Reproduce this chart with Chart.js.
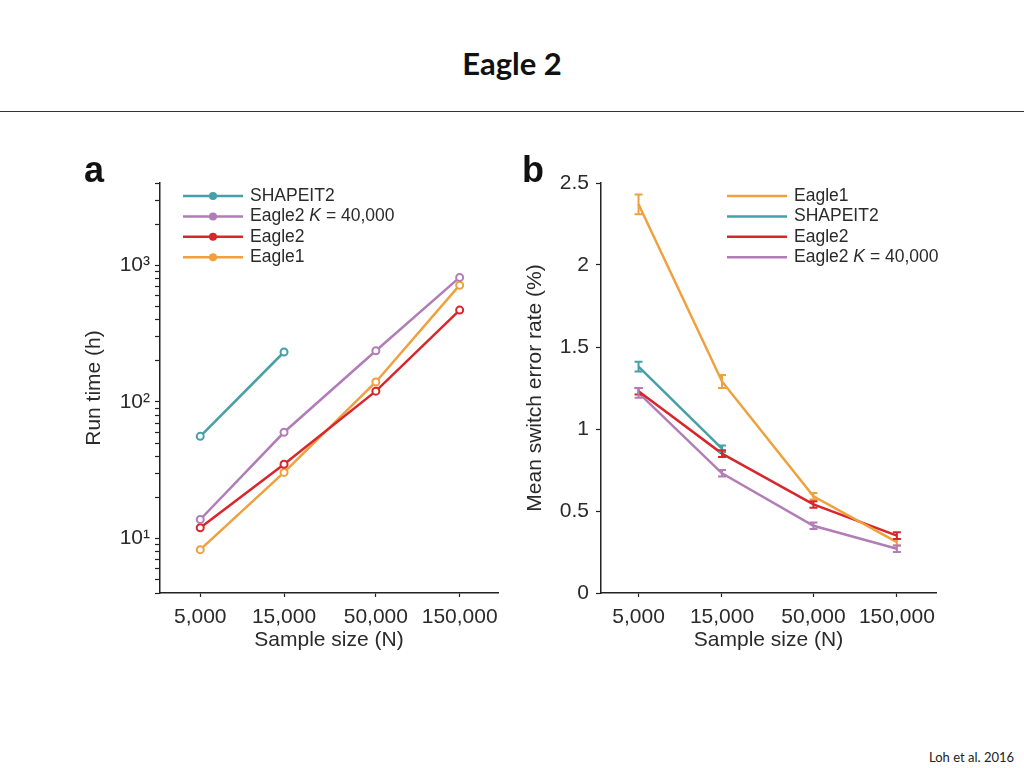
<!DOCTYPE html>
<html>
<head>
<meta charset="utf-8">
<title>Eagle 2</title>
<script src="https://cdn.jsdelivr.net/npm/chart.js"></script>
<style>
  body { margin: 0; width: 1024px; height: 768px; background: #fff; position: relative; overflow: hidden; }
  #title { position: absolute; top: 48px; left: 0; width: 1024px; text-align: center; line-height: 31px;
           font-family: Lato, "Open Sans", sans-serif; font-weight: bold; font-size: 31px; color: #111; }
  #rule { position: absolute; top: 111px; left: 0; width: 1024px; border-top: 1.5px solid #333; }
  .panel { position: absolute; top: 150px; }
  .letter { position: absolute; top: 152px; line-height: 36px; font-family: "Liberation Sans", Arial, sans-serif;
            font-weight: bold; font-size: 36px; color: #111; }
  #foot { position: absolute; left: 929px; top: 749px; font-family: Lato, sans-serif; font-size: 13px; color: #222; }
</style>
</head>
<body>
<div id="title">Eagle 2</div>
<div id="rule"></div>
<canvas id="chartA" class="panel" width="440" height="510" style="left:70px"></canvas>
<canvas id="chartB" class="panel" width="440" height="510" style="left:510px"></canvas>
<div class="letter" style="left:84px">a</div>
<div class="letter" style="left:522px">b</div>
<div id="foot">Loh et al. 2016</div>

<script>
// sample sizes (N)
var sampleSizes = [5000, 15000, 50000, 150000];

// panel a: run time (h)
var runShapeit2 = [56, 232];
var runEagle2K = [13.8, 60, 237, 815];
var runEagle2 = [12, 35, 120, 470];
var runEagle1 = [8.3, 30.5, 140, 715];
var runTickValues = [10, 100, 1000];
var runTickLabels = ['10¹', '10²', '10³'];

// panel b: mean switch error rate (%) and error bar half-widths
var serEagle1 = [2.37, 1.29, 0.59, 0.31];
var serEagle1Err = [0.06, 0.04, 0.02, 0.02];
var serShapeit2 = [1.38, 0.88];
var serShapeit2Err = [0.03, 0.02];
var serEagle2 = [1.23, 0.85, 0.54, 0.35];
var serEagle2Err = [0.02, 0.02, 0.02, 0.02];
var serEagle2K = [1.22, 0.73, 0.41, 0.27];
var serEagle2KErr = [0.03, 0.02, 0.02, 0.02];

var TEAL = '#45a0a8', PURPLE = '#b27db7', RED = '#d8262c', ORANGE = '#f0a03c';
var AXIS = '#222', TEXT = '#2a2a2a', FONT = '"Liberation Sans", Arial, sans-serif';
var FS = 21;

function pts(ys) {
    return ys.map(function (y, i) { return {x: sampleSizes[i], y: y}; });
}

// legend drawn inside the plot, one entry per row
var inlineLegend = {
    id: 'inlineLegend',
    afterDraw: function (chart, args, opts) {
        var ctx = chart.ctx, area = chart.chartArea;
        ctx.save();
        ctx.textBaseline = 'middle';
        chart.data.datasets.forEach(function (ds, i) {
            var y = area.top + opts.top + i * opts.rowGap;
            var x0 = area.left + opts.left;
            ctx.strokeStyle = ds.borderColor;
            ctx.lineWidth = 2.5;
            ctx.beginPath(); ctx.moveTo(x0, y); ctx.lineTo(x0 + opts.lineLen, y); ctx.stroke();
            if (opts.markers) {
                ctx.fillStyle = ds.borderColor;
                ctx.beginPath(); ctx.arc(x0 + opts.lineLen / 2, y, 4, 0, Math.PI * 2); ctx.fill();
            }
            var tx = x0 + opts.lineLen + 7;
            ctx.fillStyle = TEXT;
            ds.label.split(/\b(K)\b/).forEach(function (part, k) {
                ctx.font = (k % 2 ? 'italic ' : '') + '17.5px ' + FONT;
                ctx.fillText(part, tx, y);
                tx += ctx.measureText(part).width;
            });
        });
        ctx.restore();
    }
};

var errorBars = {
    id: 'errorBars',
    afterDatasetsDraw: function (chart) {
        var ctx = chart.ctx, xs = chart.scales.x, ys = chart.scales.y;
        ctx.save();
        chart.data.datasets.forEach(function (ds) {
            if (!ds.errors) return;
            ctx.strokeStyle = ds.borderColor;
            ctx.lineWidth = 2;
            ds.data.forEach(function (p, i) {
                var px = xs.getPixelForValue(p.x);
                var top = ys.getPixelForValue(p.y + ds.errors[i]);
                var bot = ys.getPixelForValue(p.y - ds.errors[i]);
                ctx.beginPath();
                ctx.moveTo(px, top); ctx.lineTo(px, bot);
                ctx.moveTo(px - 4, top); ctx.lineTo(px + 4, top);
                ctx.moveTo(px - 4, bot); ctx.lineTo(px + 4, bot);
                ctx.stroke();
            });
        });
        ctx.restore();
    }
};

function xScale(min, max) {
    return {
        type: 'logarithmic', min: min, max: max,
        afterBuildTicks: function (s) { s.ticks = sampleSizes.map(function (v) { return {value: v}; }); },
        afterFit: function (s) { s.height = 67; },
        border: {color: AXIS, width: 1.5},
        grid: {drawOnChartArea: false, tickLength: 4, color: AXIS, tickWidth: 1.2},
        ticks: {autoSkip: false, maxRotation: 0, padding: 8, color: TEXT, font: {size: FS, family: FONT},
                callback: function (v) { return Number(v).toLocaleString('en-US'); }},
        title: {display: true, text: 'Sample size (N)', color: TEXT, font: {size: FS, family: FONT},
                padding: {top: 0, bottom: 7}}
    };
}

function line(label, data, color, withPoints, errors) {
    return {
        label: label, data: pts(data), errors: errors,
        borderColor: color, backgroundColor: color, borderWidth: 2.5,
        pointRadius: withPoints ? 3.5 : 0, pointBorderWidth: 2,
        pointBorderColor: color, pointBackgroundColor: '#fff'
    };
}

new Chart(document.getElementById('chartA'), {
    type: 'line',
    data: {
        datasets: [
            line('SHAPEIT2', runShapeit2, TEAL, true),
            line('Eagle2 K = 40,000', runEagle2K, PURPLE, true),
            line('Eagle2', runEagle2, RED, true),
            line('Eagle1', runEagle1, ORANGE, true)
        ]
    },
    options: {
        responsive: false, animation: false, devicePixelRatio: 1,
        layout: {padding: {top: 33, right: 12, left: 0, bottom: 0}},
        plugins: {
            legend: {display: false}, tooltip: {enabled: false},
            inlineLegend: {left: 23, top: 13, rowGap: 20.4, lineLen: 60, markers: true}
        },
        scales: {
            x: xScale(2950, 248000),
            y: {
                type: 'logarithmic', min: 4, max: 4000,
                afterBuildTicks: function (s) {
                    var t = [];
                    for (var d = 1; d <= 1000; d *= 10)
                        for (var m = 1; m <= 9; m++)
                            if (m * d >= 4 && m * d <= 4000) t.push({value: m * d});
                    s.ticks = t;
                },
                afterFit: function (s) { s.width = 90; },
                border: {color: AXIS, width: 1.5},
                grid: {drawOnChartArea: false, tickLength: 5, color: AXIS, tickWidth: 1.2},
                ticks: {autoSkip: false, padding: 5, color: TEXT, font: {size: FS, family: FONT},
                        callback: function (v) {
                            var k = runTickValues.indexOf(v);
                            return k < 0 ? '' : runTickLabels[k];
                        }},
                title: {display: true, text: 'Run time (h)', color: TEXT, font: {size: FS, family: FONT},
                        padding: {top: 12, bottom: 0}}
            }
        }
    },
    plugins: [inlineLegend]
});

new Chart(document.getElementById('chartB'), {
    type: 'line',
    data: {
        datasets: [
            line('Eagle1', serEagle1, ORANGE, false, serEagle1Err),
            line('SHAPEIT2', serShapeit2, TEAL, false, serShapeit2Err),
            line('Eagle2', serEagle2, RED, false, serEagle2Err),
            line('Eagle2 K = 40,000', serEagle2K, PURPLE, false, serEagle2KErr)
        ]
    },
    options: {
        responsive: false, animation: false, devicePixelRatio: 1,
        layout: {padding: {top: 33, right: 14, left: 0, bottom: 0}},
        plugins: {
            legend: {display: false}, tooltip: {enabled: false},
            inlineLegend: {left: 126, top: 13, rowGap: 20.4, lineLen: 60, markers: false}
        },
        scales: {
            x: xScale(3050, 251000),
            y: {
                type: 'linear', min: 0, max: 2.5,
                afterFit: function (s) { s.width = 91; },
                border: {color: AXIS, width: 1.5},
                grid: {drawOnChartArea: false, tickLength: 5, color: AXIS, tickWidth: 1.2},
                ticks: {stepSize: 0.5, padding: 7, color: TEXT, font: {size: FS, family: FONT},
                        callback: function (v) { return String(v); }},
                title: {display: true, text: 'Mean switch error rate (%)', color: TEXT,
                        font: {size: FS, family: FONT}, padding: {top: 13, bottom: 0}}
            }
        }
    },
    plugins: [inlineLegend, errorBars]
});
</script>
</body>
</html>
